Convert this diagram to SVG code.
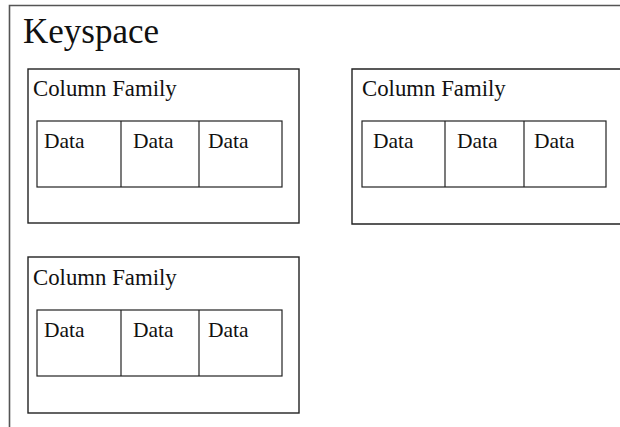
<svg xmlns="http://www.w3.org/2000/svg" width="620" height="427" viewBox="0 0 620 427">
  <style>
    .ks { fill: none; stroke: #555; stroke-width: 1.6; }
    .cf { fill: #fff; stroke: #222; stroke-width: 1.4; }
    .row { fill: #fff; stroke: #222; stroke-width: 1.2; }
    .div { stroke: #222; stroke-width: 1.2; }
    text { font-family: "Liberation Serif", "Times New Roman", serif; fill: #111; }
    .t-ks { font-size: 35px; }
    .t-cf { font-size: 22.8px; }
    .t-d { font-size: 21.5px; }
  </style>

  <!-- keyspace frame (runs off the right and bottom edges) -->
  <g id="keyspace">
    <path class="ks" d="M9.5 430 V5.5 H625"/>
    <text class="t-ks" x="23" y="43">Keyspace</text>
  </g>

  <!-- column family, top left -->
  <g id="cf1">
    <rect class="cf" x="28" y="69" width="271" height="154"/>
    <text class="t-cf" x="33" y="96">Column Family</text>
    <rect class="row" x="37" y="121" width="245" height="66"/>
    <line class="div" x1="121" y1="121" x2="121" y2="187"/>
    <line class="div" x1="199" y1="121" x2="199" y2="187"/>
    <text class="t-d" x="44" y="148">Data</text>
    <text class="t-d" x="133" y="148">Data</text>
    <text class="t-d" x="208" y="148">Data</text>
  </g>

  <!-- column family, top right (cut at the right edge) -->
  <g id="cf2">
    <path class="cf" d="M625 69 H352 V224 H625"/>
    <text class="t-cf" x="362" y="96">Column Family</text>
    <rect class="row" x="362" y="121" width="244" height="66"/>
    <line class="div" x1="445" y1="121" x2="445" y2="187"/>
    <line class="div" x1="524" y1="121" x2="524" y2="187"/>
    <text class="t-d" x="373" y="148">Data</text>
    <text class="t-d" x="457" y="148">Data</text>
    <text class="t-d" x="534" y="148">Data</text>
  </g>

  <!-- column family, bottom left -->
  <g id="cf3">
    <rect class="cf" x="28" y="257" width="271" height="156"/>
    <text class="t-cf" x="33" y="285">Column Family</text>
    <rect class="row" x="37" y="310" width="245" height="66"/>
    <line class="div" x1="121" y1="310" x2="121" y2="376"/>
    <line class="div" x1="199" y1="310" x2="199" y2="376"/>
    <text class="t-d" x="44" y="337">Data</text>
    <text class="t-d" x="133" y="337">Data</text>
    <text class="t-d" x="208" y="337">Data</text>
  </g>

  <!-- no connectors in this diagram -->
  <g id="connectors"/>
</svg>
